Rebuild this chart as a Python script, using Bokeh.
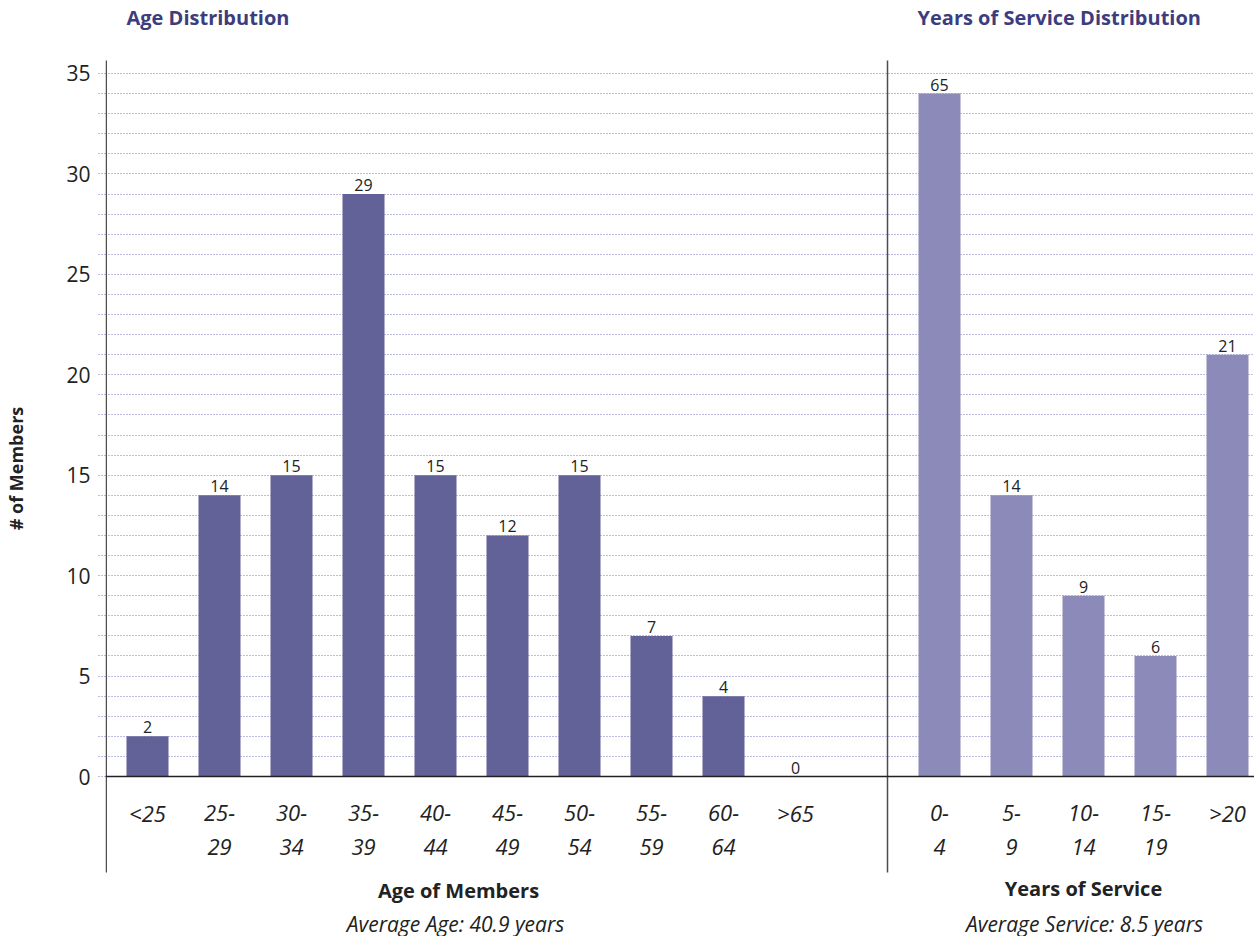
from bokeh.plotting import figure
from bokeh.models import Range1d, FixedTicker, Span, Grid, LinearAxis
from bokeh.core.properties import value
from bokeh.embed import file_html
from bokeh.resources import INLINE

# ---------------- data ----------------
age_groups = ["<25", "25-29", "30-34", "35-39", "40-44", "45-49", "50-54", "55-59", "60-64", ">65"]
age_counts = [2, 14, 15, 29, 15, 12, 15, 7, 4, 0]
service_groups = ["0-4", "5-9", "10-14", "15-19", ">20"]
service_counts = [65, 14, 9, 6, 21]
y_ticks = list(range(0, 36))
y_label_ticks = [0, 5, 10, 15, 20, 25, 30, 35]
bar_cap = 34  # the original draws the 65 bar truncated at 34
avg_age = "40.9"
avg_service = "8.5"

# ---------------- layout constants (pixels) ----------------
FONT = value("Open Sans")
W, H = 1254, 936
BORDER_LEFT = 105
PX = 72.0            # px per category slot
PY = 20.086          # px per y unit
ZERO_PX = 776        # pixel row of y = 0
TOP35_PX = 73        # pixel row of y = 35
FIRST_BAR_PX = 147   # centre of first bar
PANEL_TOP_PX, PANEL_BOTTOM_PX = 60, 872
SEPARATOR_PX = 887
GRID_COLOR = "#7b7bc6"
AXIS_COLOR = "#4d4d4d"
TITLE_COLOR = "#3d3d7d"
TEXT_COLOR = "#222222"
AGE_COLOR = "#626198"
SERVICE_COLOR = "#8b8ab8"


def xd(px):
    return (px - FIRST_BAR_PX) / PX


def yd(py):
    return (ZERO_PX - py) / PY


def split_label(lbl):
    if "-" in lbl:
        a, b = lbl.split("-")
        return a + "-", b
    return lbl, ""


x0 = xd(BORDER_LEFT)
p = figure(width=W, height=H, output_backend="svg", toolbar_location=None,
           x_range=Range1d(x0, x0 + (W - BORDER_LEFT) / PX),
           y_range=Range1d(yd(H), yd(0)),
           x_axis_location=None, y_axis_location=None,
           min_border_left=BORDER_LEFT, min_border_right=0, min_border_top=0, min_border_bottom=0)
p.outline_line_color = None
p.background_fill_color = "white"
p.xgrid.visible = False
p.ygrid.visible = False

# y axis (ticks & labels only, line drawn as a segment so it stops where the original does)
yaxis = LinearAxis(ticker=FixedTicker(ticks=y_ticks),
                   major_label_overrides={t: (str(t) if t in y_label_ticks else "") for t in y_ticks},
                   major_tick_out=7, major_tick_in=0, major_tick_line_color=GRID_COLOR,
                   major_tick_line_dash="1 2", minor_tick_line_color=None,
                   axis_line_color=None,
                   major_label_standoff=8, major_label_text_font="Open Sans",
                   major_label_text_font_size="21px", major_label_text_color=TEXT_COLOR,
                   axis_label="# of Members", axis_label_text_font="Open Sans",
                   axis_label_text_font_size="18px", axis_label_text_font_style="bold",
                   axis_label_text_color=TEXT_COLOR, axis_label_standoff=35)
p.add_layout(yaxis, "left")
p.add_layout(Grid(dimension=1, ticker=FixedTicker(ticks=y_ticks[1:]), grid_line_color=GRID_COLOR,
                  grid_line_dash="1 2", grid_line_width=1))

# panel frame lines
p.segment(x0=[x0 + 0.75 / PX, xd(SEPARATOR_PX)], x1=[x0 + 0.75 / PX, xd(SEPARATOR_PX)],
          y0=[yd(PANEL_BOTTOM_PX)] * 2, y1=[yd(PANEL_TOP_PX)] * 2,
          line_color=AXIS_COLOR, line_width=1.5)
p.add_layout(Span(location=0, dimension="width", line_color=TEXT_COLOR, line_width=1.5))


def draw_panel(groups, counts, start, color):
    xs = [start + i for i in range(len(groups))]
    heights = [min(c, bar_cap) for c in counts]
    p.vbar(x=xs, top=heights, bottom=0, width=42 / PX, fill_color=color, line_color=None)
    p.text(x=xs, y=heights, text=[str(c) for c in counts], text_align="center",
           text_baseline="middle", y_offset=-9, text_font=FONT, text_font_size="16px",
           text_color=TEXT_COLOR)
    line1 = [split_label(g)[0] for g in groups]
    line2 = [split_label(g)[1] for g in groups]
    for txt, py in ((line1, 812), (line2, 846)):
        p.text(x=xs, y=[yd(py)] * len(xs), text=txt, text_align="center", text_baseline="middle",
               text_font=FONT, text_font_style="italic", text_font_size="22px",
               text_color=TEXT_COLOR)


def add_text(text, x_px, y_px, size, style, color, align="center"):
    p.text(x=[xd(x_px)], y=[yd(y_px)], text=[text], text_align=align, text_baseline="middle",
           text_font=FONT, text_font_size=size, text_font_style=style, text_color=color)


service_start = len(age_groups) + 1
draw_panel(age_groups, age_counts, 0, AGE_COLOR)
draw_panel(service_groups, service_counts, service_start, SERVICE_COLOR)

add_text("Age Distribution", 126, 17, "20px", "bold", TITLE_COLOR, align="left")
add_text("Years of Service Distribution", 917, 17, "20px", "bold", TITLE_COLOR, align="left")
add_text("Age of Members", 458, 890, "20px", "bold", TEXT_COLOR)
add_text("Average Age: " + avg_age + " years", 455, 923, "21px", "italic", TEXT_COLOR)
add_text("Years of Service", 1083, 888, "20px", "bold", TEXT_COLOR)
add_text("Average Service: " + avg_service + " years", 1084, 923, "21px", "italic", TEXT_COLOR)

open("out.html", "w").write(file_html(p, INLINE))
